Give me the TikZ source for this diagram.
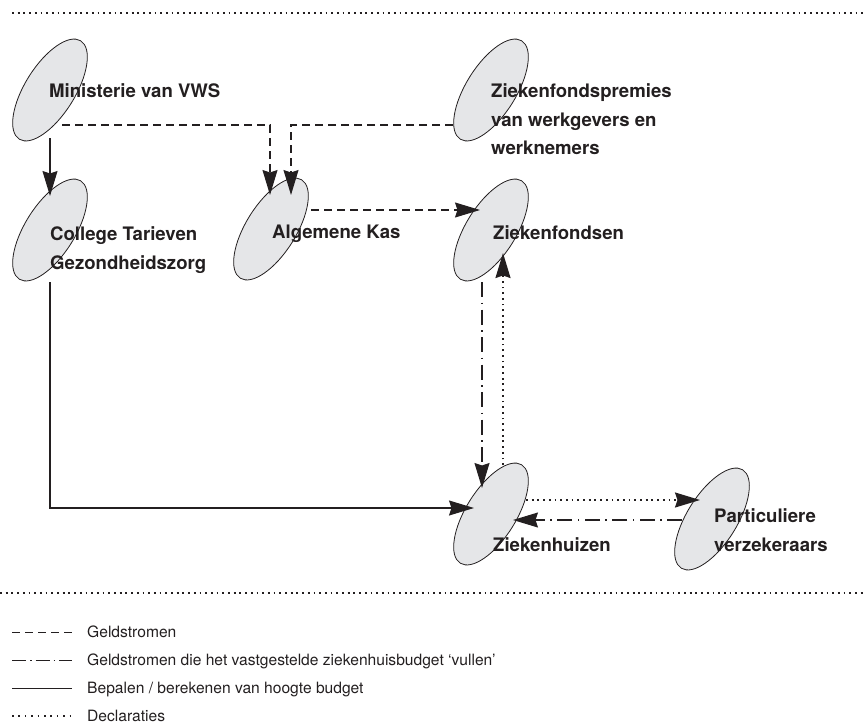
\documentclass[tikz,border=0pt]{standalone}
\usepackage{fontspec}
\setmainfont{TeX Gyre Heros}
\usetikzlibrary{arrows.meta,shapes.geometric,calc}
\definecolor{ink}{RGB}{35,31,32}
\definecolor{ellfill}{RGB}{229,230,232}
\begin{document}
\begin{tikzpicture}[x=1pt,y=-1pt,
  ell/.style={ellipse, draw=ink, fill=ellfill, line width=0.8pt, minimum width=116pt, minimum height=50pt, inner sep=0pt, rotate=58},
  lbl/.style={font=\bfseries\fontsize{18.6}{28.5}\selectfont, text=ink, inner sep=0pt, align=left},
  leg/.style={font=\fontsize{15.6}{18}\selectfont, text=ink, inner sep=0pt, anchor=base west},
  con/.style={draw=ink, line width=1.1pt},
  tip/.style={-{Stealth[length=25pt,width=15pt,inset=2.5pt]}},
  dsh/.style={dash pattern=on 8pt off 5pt},
  dshdot/.style={dash pattern=on 15pt off 5.5pt on 1.5pt off 5.5pt},
  dots/.style={line width=1.6pt, dash pattern=on 1.8pt off 3.9pt},
  sep/.style={draw=ink, line width=1.8pt, dash pattern=on 1.8pt off 3.9pt},
]
\useasboundingbox (0,0) rectangle (864,723);
% separators
\coordinate (s1a) at (12,13); \coordinate (s1b) at (864,13);
\coordinate (s2a) at (0,593); \coordinate (s2b) at (864,593);
\draw[sep] (s1a) -- (s1b);
\draw[sep] (s2a) -- (s2b);
% ellipses
\node[ell] (min) at (50,90) {};
\node[ell] (ctg) at (50,230) {};
\node[ell] (ak)  at (271,229) {};
\node[ell] (zfp) at (491,90) {};
\node[ell] (zf)  at (491,230) {};
\node[ell] (zh)  at (491,514) {};
\node[ell] (pv)  at (712,519) {};
% connectors
\draw[con,tip] ($(min)+(0,48)$) -- ($(ctg)+(0,-34)$);
\draw[con,dsh,tip] ($(min)+(12,35)$) -| ($(ak)+(-1,-34)$);
\draw[con,dsh,tip] ($(zfp)+(-38,35)$) -| ($(ak)+(20,-34)$);
\draw[con,dsh,tip] ($(ak)+(40,-19)$) -- ($(zf)+(-11,-20)$);
\draw[con,dshdot,tip] ($(zf)+(-9,52)$) -- ($(zh)+(-9,-26)$);
\draw[con,dots,tip] ($(zh)+(12,-49)$) -- ($(zf)+(12,23)$);
\draw[con,dots,tip] ($(zh)+(35,-14)$) -- ($(pv)+(-12,-19)$);
\draw[con,dshdot,tip] ($(pv)+(-30,1)$) -- ($(zh)+(22,6)$);
\draw[con,tip] ($(ctg)+(0,52)$) |- ($(zh)+(-17,-6)$);
% labels
\node[lbl, anchor=base west] (tmin) at (49,97) {Ministerie van VWS};
\node[lbl, anchor=north west] (tzfp) at (491,83.5) {Ziekenfondspremies\\van werkgevers en\\werknemers};
\node[lbl, anchor=north west] (tctg) at (50,226.5) {College Tarieven\\Gezondheidszorg};
\node[lbl, anchor=base west] (tak) at (272,238) {Algemene Kas};
\node[lbl, anchor=base west] (tzf) at (493,239) {Ziekenfondsen};
\node[lbl, anchor=base west] (tzh) at (493,551) {Ziekenhuizen};
\node[lbl, anchor=north west] (tpv) at (714,508.5) {Particuliere\\verzekeraars};
% legend
\coordinate (l1a) at (12,632); \coordinate (l1b) at (72,632);
\coordinate (l2a) at (12,660); \coordinate (l2b) at (72,660);
\coordinate (l3a) at (12,688); \coordinate (l3b) at (72,688);
\coordinate (l4a) at (12,716); \coordinate (l4b) at (72,716);
\draw[draw=ink, line width=1pt, dsh] (l1a) -- (l1b);
\draw[draw=ink, line width=1pt, dash pattern=on 14pt off 4pt on 1.5pt off 4pt] (l2a) -- (l2b);
\draw[draw=ink, line width=1pt] (l3a) -- (l3b);
\draw[draw=ink, line width=1.5pt, dash pattern=on 1.6pt off 4.8pt] (l4a) -- (l4b);
\node[leg] (g1) at (87,637) {Geldstromen};
\node[leg] (g2) at (87,665) {Geldstromen die het vastgestelde ziekenhuisbudget ‘vullen’};
\node[leg] (g3) at (87,693) {Bepalen / berekenen van hoogte budget};
\node[leg] (g4) at (87,721) {Declaraties};
\end{tikzpicture}
\end{document}
